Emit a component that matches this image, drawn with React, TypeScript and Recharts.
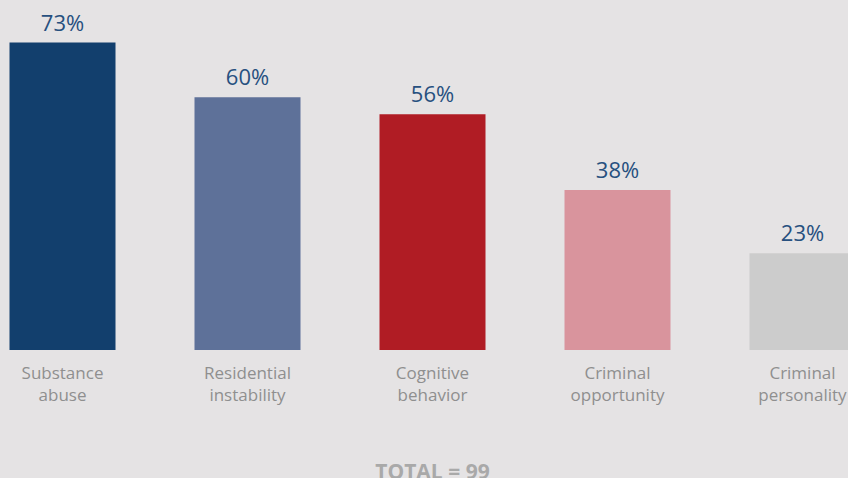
import { BarChart, Bar, XAxis, YAxis, Cell, LabelList } from "recharts";

const categories = [
  "Substance abuse",
  "Residential instability",
  "Cognitive behavior",
  "Criminal opportunity",
  "Criminal personality",
];
const shares = [73, 60, 56, 38, 23];
const barColors = ["#123f6d", "#5e7199", "#b01c24", "#d9949d", "#cccccc"];
const totalLabel = "TOTAL = 99";

const data = categories.map((name, i) => ({ name, value: shares[i] }));

const FONT = "'Open Sans', 'Noto Sans', sans-serif";

// two-line category label under each bar
function CategoryTick(props: any) {
  const { x, y, payload } = props;
  const words = String(payload.value).split(" ");
  return (
    <text
      x={x}
      y={y}
      textAnchor="middle"
      fill="#8f8f8f"
      fontFamily={FONT}
      fontSize={17}
    >
      <tspan x={x} dy={29}>
        {words[0]}
      </tspan>
      <tspan x={x} dy={22}>
        {words.slice(1).join(" ")}
      </tspan>
    </text>
  );
}

export default function App() {
  return (
    <div
      style={{
        position: "absolute",
        left: 0,
        top: 0,
        width: 848,
        height: 478,
        overflow: "hidden",
        background: "#e5e3e4",
      }}
    >
      <div style={{ position: "absolute", left: -30, top: 0 }}>
        <BarChart
          width={925}
          height={500}
          data={data}
          margin={{ top: 0, right: 0, left: 0, bottom: 0 }}
          barCategoryGap={39.5}
        >
          <XAxis
            dataKey="name"
            axisLine={false}
            tickLine={false}
            tickSize={0}
            tickMargin={0}
            height={150}
            interval={0}
            tick={<CategoryTick />}
            label={{
              value: totalLabel,
              position: "insideBottom",
              offset: 21,
              fill: "#a9a9a9",
              fontFamily: FONT,
              fontSize: 21,
              fontWeight: 700,
            }}
          />
          <YAxis hide domain={[0, 83.1]} />
          <Bar dataKey="value" isAnimationActive={false}>
            {data.map((d, i) => (
              <Cell key={d.name} fill={barColors[i]} />
            ))}
            <LabelList
              dataKey="value"
              position="top"
              offset={12}
              formatter={(v: any) => `${v}%`}
              fill="#27507f"
              fontFamily={FONT}
              fontSize={22}
            />
          </Bar>
        </BarChart>
      </div>
    </div>
  );
}
